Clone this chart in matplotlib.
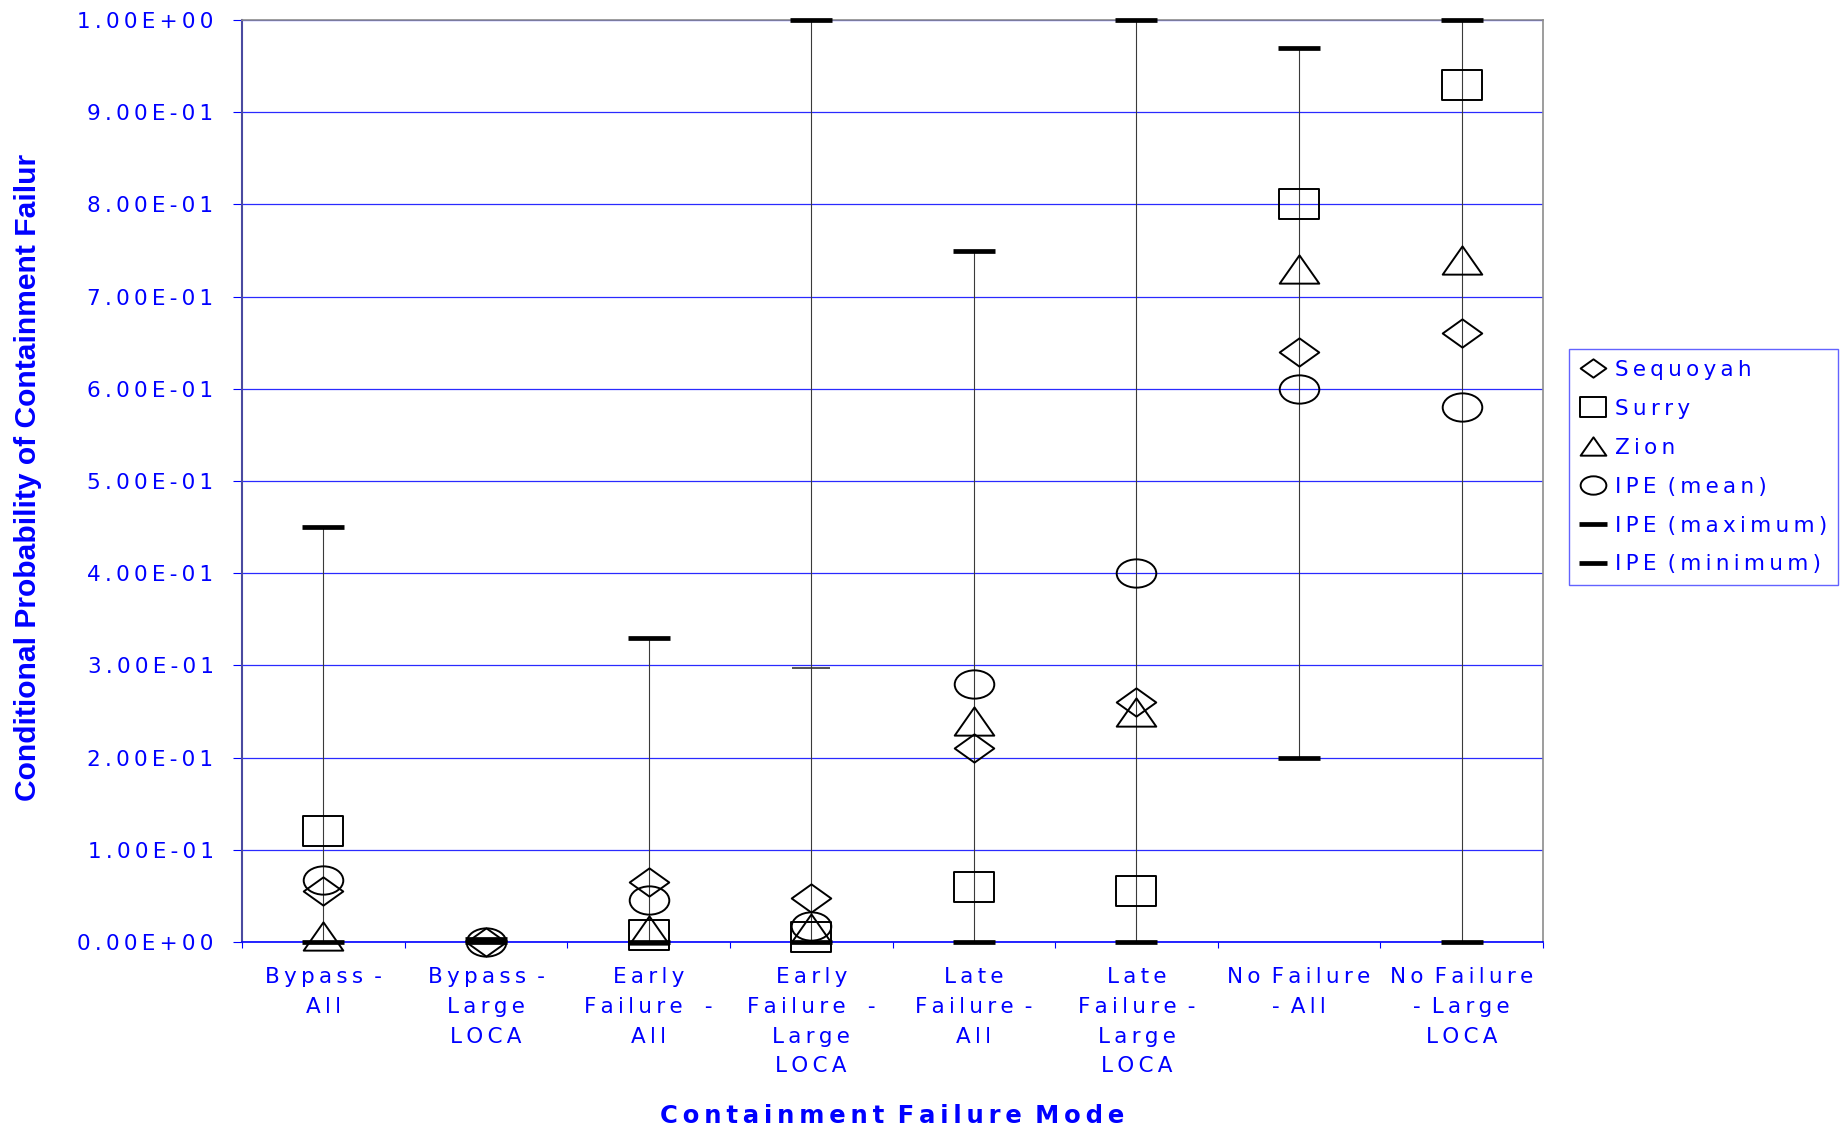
#!/usr/bin/env python3
"""Conditional probability of containment failure by failure mode (NUREG-1150 vs IPE)."""

import numpy as np
import matplotlib

matplotlib.use("Agg")
import matplotlib.pyplot as plt
from matplotlib.path import Path
from matplotlib.transforms import Affine2D
from matplotlib.ticker import FuncFormatter, FixedLocator

categories = [
    "Bypass -\nAll",
    "Bypass -\nLarge\nLOCA",
    "Early\nFailure  -\nAll",
    "Early\nFailure  -\nLarge\nLOCA",
    "Late\nFailure -\nAll",
    "Late\nFailure -\nLarge\nLOCA",
    "No Failure\n- All",
    "No Failure\n- Large\nLOCA",
]
nan = np.nan
sequoyah = [0.055, 0.0, 0.065, 0.048, 0.21, 0.26, 0.64, 0.66]
surry = [0.12, nan, 0.008, 0.005, 0.06, 0.055, 0.80, 0.93]
zion = [0.007, nan, 0.013, 0.015, 0.24, 0.25, 0.73, 0.74]
ipe_mean = [0.067, 0.0, 0.046, 0.017, 0.28, 0.40, 0.60, 0.58]
ipe_max = [0.45, 0.003, 0.33, 1.0, 0.75, 1.0, 0.97, 1.0]
ipe_min = [0.0, 0.0, 0.0, 0.0, 0.0, 0.0, 0.20, 0.0]
# stray thin cap left over in the source chart
thin_cap = [nan, nan, nan, 0.297, nan, nan, nan, nan]

BLUE = "#0000ff"
STRETCH = 1.4  # the source picture is stretched sideways, markers too


def spaced(s):
    # fake the wide letter spacing with thin spaces
    return "\n".join(" \u2009".join("\u2009".join(w) for w in line.split(" "))
                     for line in s.split("\n"))


def wide(verts):
    v = np.asarray(verts, dtype=float)
    v[:, 0] *= STRETCH
    return Path(v, closed=True)


diamond = wide([(0, 1), (1, 0), (0, -1), (-1, 0), (0, 1)])
square = wide([(-0.93, -1), (0.93, -1), (0.93, 1), (-0.93, 1), (-0.93, -1)])
triangle = wide([(0, 1), (1, -1), (-1, -1), (0, 1)])
ellipse = Affine2D().scale(STRETCH, 1).transform_path(Path.unit_circle())

plt.rcParams["font.family"] = ["DejaVu Sans"]

fig = plt.figure(figsize=(18.47, 11.32), dpi=100)
ax = fig.add_axes([242 / 1847, 1 - 942 / 1132, 1301 / 1847, 922 / 1132])

x = np.arange(len(categories))
ax.vlines(x, ipe_min, ipe_max, color="#3a3a3a", lw=0.8, zorder=2)
ax.plot(x, thin_cap, ls="none", marker="_", ms=27, mew=1.2, color="#333333",
        label="_nolegend_", zorder=2)

for vals, mk, name in [(sequoyah, diamond, "Sequoyah"), (surry, square, "Surry"),
                       (zion, triangle, "Zion"), (ipe_mean, ellipse, "IPE (mean)")]:
    ax.plot(x, vals, ls="none", marker=mk, ms=28.5, mfc="none", mec="black", mew=1.4,
            label=spaced(name), clip_on=False, zorder=3)
for vals, name in [(ipe_max, "IPE (maximum)"), (ipe_min, "IPE (minimum)")]:
    ax.plot(x, vals, ls="none", marker="_", ms=30, mew=3.4, color="black",
            label=spaced(name), clip_on=False, zorder=4)

ax.set_xlim(-0.5, 7.5)
ax.set_ylim(0, 1)
ax.set_yticks(np.linspace(0, 1, 11))
ax.yaxis.set_major_formatter(FuncFormatter(lambda v, p: spaced(f"{v:.2E}")))
ax.set_xticks(x, [spaced(c) for c in categories])
ax.xaxis.set_minor_locator(FixedLocator(np.arange(-0.5, 8, 1)))
ax.tick_params(axis="x", which="major", length=0, pad=18, labelsize=15.5, labelcolor=BLUE)
ax.tick_params(axis="x", which="minor", length=4.3, width=0.8, color=BLUE, direction="out")
ax.tick_params(axis="y", length=6.5, width=0.8, color=BLUE, direction="out", pad=14,
               labelsize=15.5, labelcolor=BLUE)
for lbl in ax.get_xticklabels():
    lbl.set_linespacing(1.61)

ax.yaxis.grid(True, color="#2a2aff", lw=0.9)
ax.set_axisbelow(True)
ax.spines["left"].set_color("#4a4aa0")
ax.spines["left"].set_linewidth(1.5)
ax.spines["bottom"].set_color(BLUE)
ax.spines["bottom"].set_linewidth(1.2)
for side in ("top", "right"):
    ax.spines[side].set_color("#8c8c8c")
    ax.spines[side].set_linewidth(1.2)

ax.set_xlabel(spaced("Containment Failure Mode"), fontsize=17.5, fontweight="bold",
              color=BLUE, va="center")
ax.xaxis.set_label_coords(0.5, (942 - 1116) / 922)
ax.set_ylabel("Conditional Probability of Containment Failur", fontsize=21.6,
              fontweight="bold", color=BLUE, ha="left", va="center", rotation_mode="anchor",
              family=["Liberation Sans", "DejaVu Sans"])
ax.yaxis.set_label_coords((28 - 242) / 1301, (942 - 801) / 922)

leg = ax.legend(loc="upper left", bbox_to_anchor=(1569 / 1847, 1 - 349 / 1132),
                bbox_transform=fig.transFigure, borderaxespad=0, fancybox=False,
                edgecolor="#3c3cff", fontsize=15.5, markerscale=0.65, handlelength=1.25,
                handletextpad=0.4, labelspacing=0.88, borderpad=0.5, labelcolor=BLUE)
leg.get_frame().set_linewidth(1.0)

fig.savefig("out.png", dpi=100)
plt.close(fig)
